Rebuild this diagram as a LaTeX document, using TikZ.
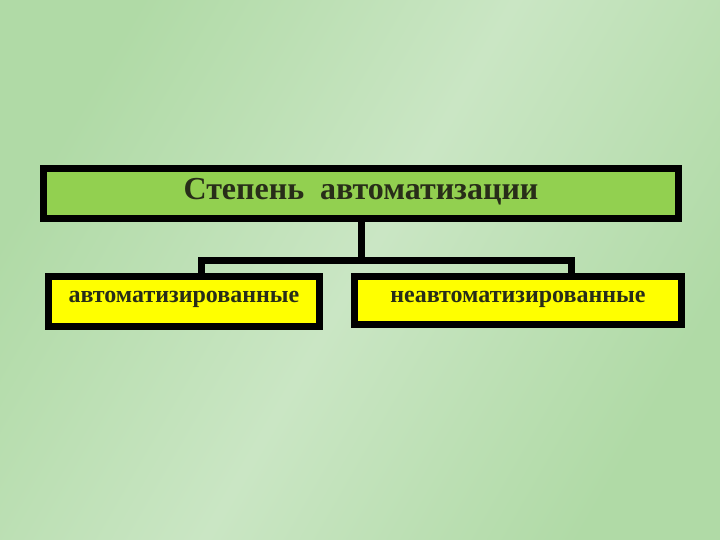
\documentclass[tikz,border=0pt]{standalone}
\usepackage{fontspec}
\setmainfont{Liberation Serif}
\usepackage{xcolor}
\usepackage{tikz}
\usetikzlibrary{positioning}
\definecolor{bgdark}{RGB}{176,218,166}
\definecolor{bglight}{RGB}{202,230,196}
\definecolor{headgreen}{RGB}{146,208,80}
\definecolor{leafyellow}{RGB}{255,255,0}
\definecolor{inkdark}{RGB}{40,45,25}

\begin{document}
\begin{tikzpicture}[x=1pt,y=-1pt]
\tikzstyle{every node}+=[inner sep=0pt]
\tikzstyle{headbox}=[draw=black,line width=7pt,fill=headgreen,text=inkdark,
  font=\bfseries\fontsize{32}{37}\selectfont,text height=20pt,text depth=7pt]
\tikzstyle{leafbox}=[draw=black,line width=7pt,fill=leafyellow,text=inkdark,
  font=\bfseries\fontsize{24}{28}\selectfont]
\tikzstyle{link}=[draw=black,line width=7pt,line join=miter]
\useasboundingbox (0,0) rectangle (720,540);
% background
\shade[left color=bgdark,right color=bgdark,middle color=bglight,shading angle=60]
  (0,0) rectangle (720,540);
% boxes
\node [headbox,minimum width=635pt,minimum height=50pt] (degree) at (361,193.5)
  {Степень\ \ автоматизации};
\node [leafbox,minimum width=271pt,minimum height=50pt,text height=13pt,text depth=12pt]
  (auto) at (184,301.5) {автоматизированные};
\node [leafbox,minimum width=327pt,minimum height=48pt,text height=14pt,text depth=11pt]
  (nonauto) at (518,300.5) {неавтоматизированные};
% connectors
\coordinate (lj) at (201,260);
\coordinate (rj) at (571,260);
\draw [link] (degree.south) -- (degree.south |- lj);
\draw [link] (auto.north -| lj) -- (lj) -- (rj) -- (nonauto.north -| rj);
\end{tikzpicture}
\end{document}
